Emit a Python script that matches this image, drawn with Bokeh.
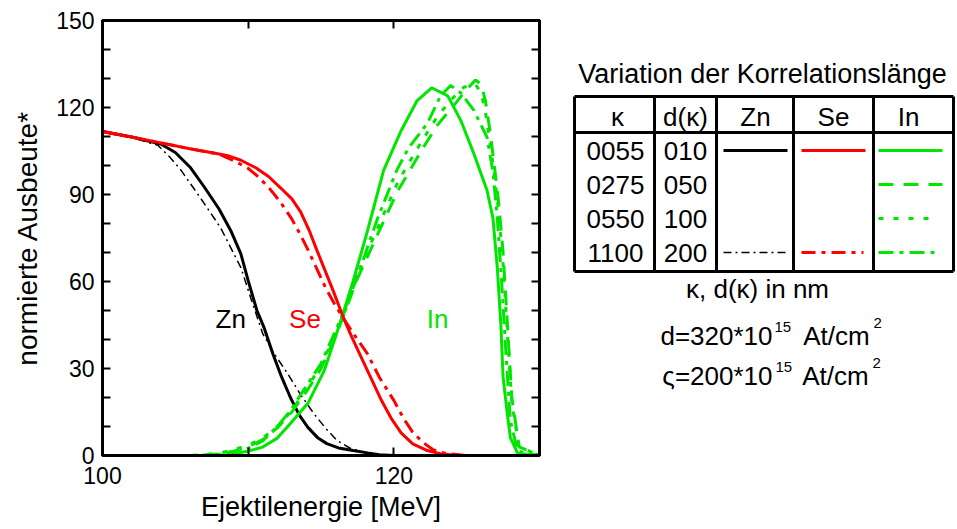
from bokeh.plotting import figure
from bokeh.models import Range1d, FixedTicker, LinearAxis
from bokeh.layouts import row
from bokeh.embed import file_html
from bokeh.resources import INLINE
from bokeh.core.properties import value

FONT = "Liberation Sans"

# ---------------- data ----------------
zn_0055_x = [100, 102, 104, 105, 106, 107, 108, 108.8, 109.5, 110, 110.6, 111.1, 111.7, 112.3, 112.9,
             113.5, 114.1, 114.8, 115.4, 116.2, 117.2, 118.2, 119, 120]
zn_0055_y = [111.7, 109.8, 107.4, 104.5, 99.5, 92.5, 85, 77.6, 69.5, 60.3, 50, 44, 35, 27, 20,
             14, 9.7, 6, 4.1, 2.6, 1.7, 0.9, 0.3, 0]

zn_1100_x = [100, 102, 103.8, 104.6, 105.4, 106.7, 108.1, 109.5, 110.2, 111, 111.8, 112.7, 113.6,
             114.5, 115.3, 116.1, 117, 118.2, 119]
zn_1100_y = [111.7, 109.6, 107, 103, 98.3, 89, 78.6, 64.8, 54, 42, 35, 28.3, 21,
             14.5, 9.5, 5.2, 2.5, 0.7, 0]

se_0055_x = [100, 102, 104, 106, 108, 108.6, 109.5, 110.6, 111.4, 112.2, 113, 113.6, 114.2, 114.7,
             115.3, 115.9, 116.5, 117.1, 117.7, 118.4, 119.1, 119.8, 120.5, 121.3, 122.3, 123.2,
             124.4, 130]
se_0055_y = [111.7, 109.8, 107.8, 105.8, 104, 103.4, 101.8, 99, 96.2, 92.4, 88.5, 84, 77.5, 71,
             63.5, 56, 48, 41, 34.5, 27, 19.5, 13, 7.8, 4, 1.7, 0.6,
             0, 0]

se_1100_x = [100, 102, 104, 106, 108, 109, 110, 110.6, 111.4, 112.2, 113, 113.6, 114.1, 114.7,
             115.3, 115.9, 116.5, 117.3, 118.2, 119, 120, 120.7, 121.3, 122, 122.7, 123.5, 125, 130]
se_1100_y = [111.7, 109.8, 107.8, 105.8, 103.9, 101.7, 99, 96.5, 92.5, 87.5, 81.5, 76, 71, 64.5,
             58, 52.5, 47.6, 41.5, 35, 27, 19, 12.5, 8, 4.5, 2, 0.8, 0, 0]

in_0055_x = [100, 106, 107.5, 108.5, 110, 111, 112, 112.9, 114.1, 115.2, 116.3, 117.2, 118.2,
             119.3, 120.5, 121.6, 122.6, 123.7, 124.6, 125.5, 126.4, 126.8, 127.1, 127.35, 127.5,
             127.8, 128, 128.5, 130]
in_0055_y = [0, 0, 0, 0.3, 1.5, 2.9, 6, 11, 18, 29, 45.5, 60, 77.6,
             98.3, 112, 122.4, 126.8, 124, 115.5, 104, 91.4, 82, 65, 45, 27,
             14, 6.2, 0.7, 0]

in_grid_x = [100, 106, 107, 108, 109, 110, 111, 112, 113, 114, 115, 116, 116.5, 117.5, 118.5,
             119.5, 120.3, 121.1, 122, 123, 124, 124.8, 125.6, 126, 126.3, 126.6, 126.9, 127.2,
             127.5, 127.8, 128.1, 128.6, 130]
in_0275_y = [0, 0, 0.2, 0.6, 1.5, 3, 5.5, 9.5, 15, 22, 30, 41, 47.6, 61, 72,
             83, 91.5, 98.3, 106, 114, 120, 125, 129.5, 128, 122, 112, 100, 87,
             70, 45, 20, 3, 0]
in_0550_y = [0, 0, 0.3, 0.8, 2, 3.5, 6, 10, 15.5, 23, 31, 42, 47.6, 62, 74,
             85.5, 94.5, 101.5, 109, 117, 123, 127, 128, 125, 118, 108, 97, 84,
             66, 42, 18, 3, 0]

in_1100_x = [100, 106, 107, 107.6, 108.8, 110, 111, 112, 112.9, 114, 115, 116.3, 117, 118, 118.9,
             120.2, 121, 122.3, 123.2, 123.9, 124.6, 125.5, 126.4, 126.8, 127.1, 127.4, 127.7,
             128, 128.5, 130]
in_1100_y = [0, 0, 0, 0.2, 0.7, 2.5, 5, 10, 15.5, 24, 31.7, 46.5, 55, 69, 82,
             98.3, 106, 114.5, 124, 127.6, 125, 119, 109.7, 98, 82, 60, 35,
             12, 1.5, 0]

x_major = [100, 110, 120, 130]
x_labels = {100: "100", 110: "", 120: "120", 130: ""}
y_major = [0, 30, 60, 90, 120, 150]
y_minor = [10, 20, 40, 50, 70, 80, 100, 110, 130, 140]

kappa = ["0055", "0275", "0550", "1100"]
d_kappa = ["010", "050", "100", "200"]
headers = ["\u03ba", "d(\u03ba)", "Zn", "Se", "In"]

BLACK, RED, GREEN = "#000000", "#ff0000", "#00e600"

# ---------------- main plot ----------------
p = figure(width=560, height=529, x_range=Range1d(100, 130), y_range=Range1d(0, 150),
           output_backend="svg", toolbar_location=None,
           min_border_left=102, min_border_right=21, min_border_top=20, min_border_bottom=74)
p.grid.visible = False
p.outline_line_color = "black"
p.outline_line_width = 3
p.background_fill_color = "white"
p.border_fill_color = "white"


def style_axis(ax):
    ax.axis_line_width = 3
    ax.axis_line_color = "black"
    ax.major_tick_in = 8
    ax.major_tick_out = 0
    ax.minor_tick_in = 8
    ax.minor_tick_out = 0
    ax.major_tick_line_width = 2
    ax.minor_tick_line_width = 2
    ax.major_label_text_font = FONT
    ax.major_label_text_font_size = "23px"
    ax.major_label_text_color = "black"
    ax.axis_label_text_font = FONT
    ax.axis_label_text_font_size = "27px"
    ax.axis_label_text_font_style = "normal"
    ax.axis_label_text_color = "black"


p.xaxis.ticker = FixedTicker(ticks=x_major)
p.xaxis.major_label_overrides = x_labels
p.xaxis.axis_label = "Ejektilenergie [MeV]"
p.yaxis.ticker = FixedTicker(ticks=y_major, minor_ticks=y_minor)
p.yaxis.axis_label = "normierte Ausbeute*"
for ax in p.xaxis + p.yaxis:
    style_axis(ax)
p.yaxis.axis_label_text_font_size = "28px"
p.xaxis.major_label_standoff = 11
p.xaxis.axis_label_standoff = 5
p.yaxis.major_label_standoff = 8
p.yaxis.axis_label_standoff = 10

top = LinearAxis(ticker=FixedTicker(ticks=x_major))
right = LinearAxis(ticker=FixedTicker(ticks=y_major, minor_ticks=y_minor))
for ax, ticks in ((top, x_major), (right, y_major)):
    style_axis(ax)
    ax.major_label_overrides = {t: "" for t in ticks}
    ax.major_label_standoff = 0
p.add_layout(top, "above")
p.add_layout(right, "right")

p.line(zn_1100_x, zn_1100_y, line_color=BLACK, line_width=1.5, line_dash="8 4 2 4")
p.line(zn_0055_x, zn_0055_y, line_color=BLACK, line_width=3)
p.line(in_grid_x, in_0275_y, line_color=GREEN, line_width=3, line_dash="15 10")
p.line(in_grid_x, in_0550_y, line_color=GREEN, line_width=3, line_dash="5 10")
p.line(in_1100_x, in_1100_y, line_color=GREEN, line_width=3, line_dash="15 6 4 6")
p.line(in_0055_x, in_0055_y, line_color=GREEN, line_width=3)
p.line(se_1100_x, se_1100_y, line_color=RED, line_width=3, line_dash="14 6 4 6")
p.line(se_0055_x, se_0055_y, line_color=RED, line_width=3)

p.text(x=[108.8], y=[47.2], text=["Zn"], text_color=BLACK, text_font=value(FONT),
       text_font_size="26px", text_align="center", text_baseline="middle")
p.text(x=[113.9], y=[47.2], text=["Se"], text_color=RED, text_font=value(FONT),
       text_font_size="26px", text_align="center", text_baseline="middle")
p.text(x=[123.0], y=[47.2], text=["In"], text_color=GREEN, text_font=value(FONT),
       text_font_size="26px", text_align="center", text_baseline="middle")

# ---------------- right panel (legend table), pixel-like coordinates ----------------
q = figure(width=397, height=529, x_range=Range1d(560, 957), y_range=Range1d(455, 20),
           output_backend="svg", toolbar_location=None, x_axis_type=None, y_axis_type=None,
           min_border_left=0, min_border_right=0, min_border_top=20, min_border_bottom=74)
q.grid.visible = False
q.outline_line_color = None
q.border_fill_color = "white"

q.text(x=[762], y=[73], text=["Variation der Korrelationsl\u00e4nge"], text_font=value(FONT),
       text_font_size="27px", text_align="center", text_baseline="middle")

col_x = [574, 654, 716, 793, 873, 953]
tab_top, tab_head, tab_bot = 96, 132, 271
q.segment(x0=[col_x[0]] * 3, y0=[tab_top, tab_head, tab_bot], x1=[col_x[-1]] * 3,
          y1=[tab_top, tab_head, tab_bot], line_color="black", line_width=3)
q.segment(x0=col_x, y0=[tab_top] * 6, x1=col_x, y1=[tab_bot] * 6, line_color="black", line_width=3)

head_x = [617, 685, 755, 833, 908]
q.text(x=head_x, y=[116] * 5, text=headers, text_font=value(FONT), text_font_size="26px",
       text_align="center", text_baseline="middle")
row_y = [150, 184, 218, 252]
q.text(x=[615] * 4, y=row_y, text=kappa, text_font=value(FONT), text_font_size="26px",
       text_align="center", text_baseline="middle")
q.text(x=[685] * 4, y=row_y, text=d_kappa, text_font=value(FONT), text_font_size="26px",
       text_align="center", text_baseline="middle")

q.line([723, 787], [row_y[0], row_y[0]], line_color=BLACK, line_width=3)
q.line([801, 865], [row_y[0], row_y[0]], line_color=RED, line_width=3)
q.line([878, 942], [row_y[0], row_y[0]], line_color=GREEN, line_width=3)
q.line([878, 942], [row_y[1], row_y[1]], line_color=GREEN, line_width=3, line_dash="15 10")
q.line([878, 934], [row_y[2], row_y[2]], line_color=GREEN, line_width=3, line_dash="5 10")
q.line([723, 787], [row_y[3], row_y[3]], line_color=BLACK, line_width=1.5, line_dash="8 4 2 4")
q.line([801, 863], [row_y[3], row_y[3]], line_color=RED, line_width=3, line_dash="14 6 4 6")
q.line([878, 940], [row_y[3], row_y[3]], line_color=GREEN, line_width=3, line_dash="15 6 4 6")

q.text(x=[757], y=[288], text=["\u03ba, d(\u03ba) in nm"], text_font=value(FONT),
       text_font_size="26px", text_align="center", text_baseline="middle")

q.text(x=[772, 772], y=[335, 375], text=["d=320*10", "\u03c2=200*10"], text_font=value(FONT),
       text_font_size="26px", text_align="right", text_baseline="middle")
q.text(x=[774, 775], y=[326, 366], text=["15", "15"], text_font=value(FONT),
       text_font_size="15px", text_align="left", text_baseline="middle")
q.text(x=[836, 835], y=[335, 375], text=["At/cm", "At/cm"], text_font=value(FONT),
       text_font_size="26px", text_align="center", text_baseline="middle")
q.text(x=[873, 872], y=[322, 362], text=["2", "2"], text_font=value(FONT),
       text_font_size="15px", text_align="left", text_baseline="middle")

layout = row(p, q)
open("out.html", "w").write(file_html(layout, INLINE))
